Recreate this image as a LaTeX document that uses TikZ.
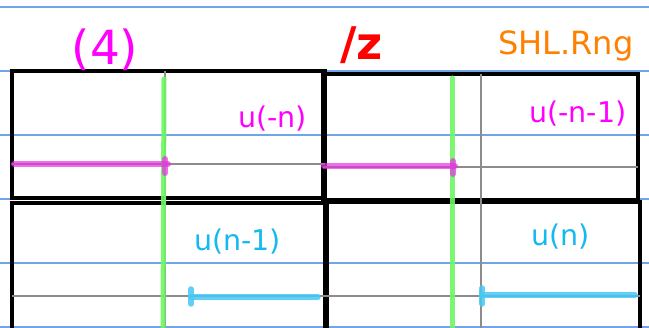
\documentclass[tikz,border=0pt]{standalone}
\usepackage{fontspec}
\setmainfont{DejaVu Sans}
\definecolor{rule}{RGB}{110,165,235}
\definecolor{axgray}{RGB}{140,140,140}
\definecolor{grn}{RGB}{110,245,100}
\definecolor{mag}{RGB}{255,0,255}
\definecolor{magl}{RGB}{230,50,225}
\definecolor{cyt}{RGB}{20,185,240}
\definecolor{cyl}{RGB}{70,200,245}
\definecolor{org}{RGB}{255,127,0}
\begin{document}
\begin{tikzpicture}[x=1pt,y=-1pt,
  rulel/.style={draw=rule,line width=1.1pt},
  boxl/.style={draw=black,line width=3.2pt},
  axl/.style={draw=axgray,line width=1.8pt},
  grnl/.style={draw=grn,line width=5pt,line cap=round,opacity=0.9},
  magline/.style={draw=magl,line width=6pt,line cap=round,opacity=0.7},
  cyline/.style={draw=cyl,line width=5.5pt,line cap=round,opacity=0.85},
  lbl/.style={inner sep=0pt,anchor=base west,font=\fontsize{28.5}{30}\selectfont}]
\useasboundingbox (0,0) rectangle (649,328);
% ruled lines
\foreach \yy in {7,71,135,199,263,327} \draw[rulel] (0,\yy) -- (649,\yy);
% boxes
\draw[boxl] (12,71) rectangle (325,198);
\draw[boxl] (323,74) rectangle (638,200);
\draw[boxl] (12,203) rectangle (325,340);
\draw[boxl] (327,202) rectangle (640,340);
% axes
\draw[axl] (165,71) -- (165,328);
\draw[axl] (12,164) -- (325,164);
\draw[axl] (481,74) -- (481,328);
\draw[axl] (323,167) -- (638,167);
\draw[axl] (12,296) -- (330,296);
\draw[axl] (327,296) -- (640,296);
% green lines
\draw[grnl] (164,79) -- (163,330);
\draw[grnl] (452,78) -- (452,330);
% magenta signals
\draw[magline] (14,164) -- (168,164);
\draw[magline] (165,159) -- (165,173);
\draw[magline] (324,166) -- (455,166);
\draw[magline] (453,161) -- (453,174);
% cyan signals
\draw[cyline] (191,297) -- (318,297);
\draw[cyline] (191,289) -- (191,304);
\draw[cyline] (482,295) -- (635,295);
\draw[cyline] (482,288) -- (482,304);
% labels
\node[inner sep=0pt,anchor=base,text=mag,font=\fontsize{47}{50}\selectfont] (t4) at (105,65) {(4)};
\node[inner sep=0pt,anchor=base west,text=red,font=\fontsize{45}{47}\selectfont\bfseries] (tz) at (340,60) {/z};
\node[inner sep=0pt,anchor=base west,text=org,font=\fontsize{32}{34}\selectfont] (tshl) at (498,55) {SHL.Rng};
\node[lbl,text=mag] (l1) at (238,128) {u(-n)};
\node[lbl,text=mag] (l2) at (529,123) {u(-n-1)};
\node[lbl,text=cyt] (l3) at (194,251) {u(n-1)};
\node[lbl,text=cyt] (l4) at (531,246) {u(n)};
\end{tikzpicture}
\end{document}
